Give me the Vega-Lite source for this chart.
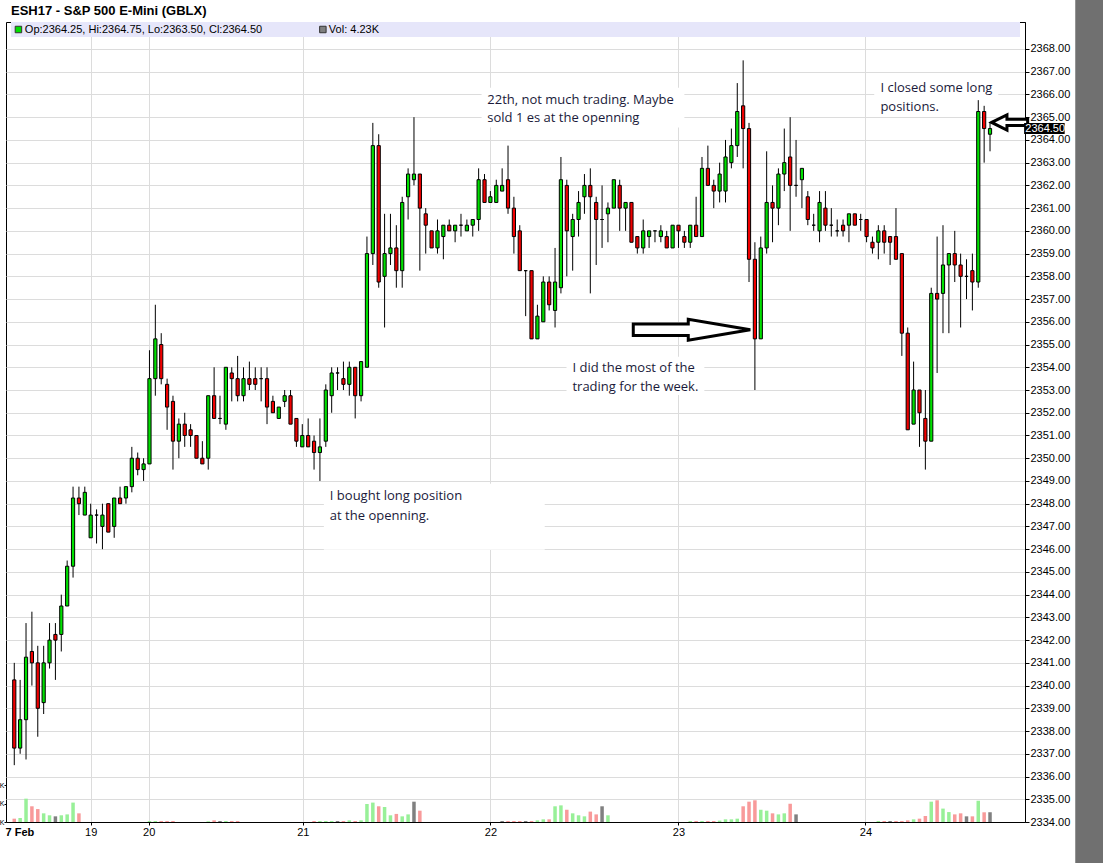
{
  "$schema": "https://vega.github.io/schema/vega-lite/v6.json",
  "width": 1019,
  "height": 800,
  "autosize": {"type": "none"},
  "padding": {"left": 6, "top": 22, "right": 78, "bottom": 41},
  "background": "white",
  "config": {
    "view": {"stroke": "#000", "strokeWidth": 1},
    "font": "Liberation Sans",
    "axis": {"labelFont": "Liberation Sans"}
  },
  "datasets": {
    "bars": [
      {"i":0,"o":2340.25,"h":2341,"l":2336.5,"c":2337.25,"v":1.44},
      {"i":1,"o":2337.25,"h":2340.25,"l":2337,"c":2338.5,"v":1.73},
      {"i":2,"o":2338.5,"h":2342.75,"l":2336.75,"c":2341.25,"v":10.1},
      {"i":3,"o":2341.5,"h":2343.25,"l":2340,"c":2341,"v":6.8},
      {"i":4,"o":2341,"h":2341.75,"l":2337.75,"c":2339,"v":5.6},
      {"i":5,"o":2339.25,"h":2341.75,"l":2338.75,"c":2341,"v":3.75},
      {"i":6,"o":2341,"h":2342.75,"l":2340.75,"c":2342,"v":2.9},
      {"i":7,"o":2342.25,"h":2342.75,"l":2340.25,"c":2342,"v":2.45},
      {"i":8,"o":2342.25,"h":2344,"l":2341.5,"c":2343.5,"v":2.9},
      {"i":9,"o":2343.5,"h":2345.5,"l":2343.5,"c":2345.25,"v":3.3},
      {"i":10,"o":2345.25,"h":2348.75,"l":2344.75,"c":2348.25,"v":8.4},
      {"i":11,"o":2348.25,"h":2348.75,"l":2347.5,"c":2348,"v":3.75},
      {"i":12,"o":2347.5,"h":2348.75,"l":2347.5,"c":2348.5,"v":0},
      {"i":13,"o":2346.5,"h":2348,"l":2346.5,"c":2347.5,"v":0},
      {"i":14,"o":2347.5,"h":2347.75,"l":2346.25,"c":2347.5,"v":0},
      {"i":15,"o":2347,"h":2348,"l":2346,"c":2347.5,"v":0},
      {"i":16,"o":2348,"h":2348,"l":2346.75,"c":2346.75,"v":0},
      {"i":17,"o":2347,"h":2348.25,"l":2346.5,"c":2348.25,"v":0},
      {"i":18,"o":2348.25,"h":2348.75,"l":2348,"c":2348,"v":0},
      {"i":19,"o":2348.25,"h":2348.75,"l":2348,"c":2348.75,"v":0},
      {"i":20,"o":2348.75,"h":2350.5,"l":2348.5,"c":2350,"v":0},
      {"i":21,"o":2350,"h":2350.25,"l":2349.25,"c":2349.5,"v":0},
      {"i":22,"o":2349.5,"h":2350,"l":2349,"c":2349.75,"v":0},
      {"i":23,"o":2349.75,"h":2354.75,"l":2349.75,"c":2353.5,"v":0.43},
      {"i":24,"o":2353.5,"h":2356.75,"l":2352.75,"c":2355.25,"v":0.43},
      {"i":25,"o":2355,"h":2355.5,"l":2353.25,"c":2353.5,"v":0.43},
      {"i":26,"o":2353.25,"h":2353.5,"l":2351.25,"c":2352.25,"v":0.43},
      {"i":27,"o":2352.5,"h":2352.75,"l":2349.5,"c":2350.75,"v":0.43},
      {"i":28,"o":2350.75,"h":2351.75,"l":2350,"c":2351.5,"v":0},
      {"i":29,"o":2351.5,"h":2352,"l":2350.5,"c":2351,"v":0},
      {"i":30,"o":2351.25,"h":2351.5,"l":2350.5,"c":2351,"v":0},
      {"i":31,"o":2351,"h":2351,"l":2350,"c":2350,"v":0},
      {"i":32,"o":2350,"h":2350.75,"l":2349.75,"c":2349.75,"v":0},
      {"i":33,"o":2350,"h":2352.75,"l":2349.5,"c":2352.75,"v":0.3},
      {"i":34,"o":2352.75,"h":2354,"l":2351.75,"c":2351.75,"v":0.72},
      {"i":35,"o":2351.75,"h":2352.75,"l":2351.5,"c":2351.75,"v":0.43},
      {"i":36,"o":2351.5,"h":2354,"l":2351.25,"c":2354,"v":0.43},
      {"i":37,"o":2353.75,"h":2354,"l":2352.5,"c":2353.5,"v":0.43},
      {"i":38,"o":2353.5,"h":2354.5,"l":2352.5,"c":2352.75,"v":0.43},
      {"i":39,"o":2352.75,"h":2354,"l":2352.5,"c":2353.5,"v":0},
      {"i":40,"o":2353.5,"h":2354.25,"l":2353,"c":2353.25,"v":0},
      {"i":41,"o":2353.5,"h":2354,"l":2353,"c":2353.25,"v":0},
      {"i":42,"o":2353.5,"h":2354,"l":2352.5,"c":2353.5,"v":0},
      {"i":43,"o":2353.5,"h":2354,"l":2351.5,"c":2352.25,"v":0},
      {"i":44,"o":2352.5,"h":2352.75,"l":2352,"c":2352,"v":0},
      {"i":45,"o":2351.75,"h":2352.25,"l":2351.75,"c":2352.25,"v":0},
      {"i":46,"o":2352.5,"h":2353,"l":2352.25,"c":2352.75,"v":0},
      {"i":47,"o":2352.75,"h":2353,"l":2351.5,"c":2351.5,"v":0},
      {"i":48,"o":2351.75,"h":2351.75,"l":2350.5,"c":2350.75,"v":0},
      {"i":49,"o":2350.5,"h":2351.5,"l":2350.5,"c":2351,"v":0},
      {"i":50,"o":2351,"h":2351.75,"l":2350.5,"c":2350.5,"v":0},
      {"i":51,"o":2350.75,"h":2351,"l":2349.5,"c":2350.25,"v":0.43},
      {"i":52,"o":2350.25,"h":2351.75,"l":2349,"c":2350.5,"v":0.43},
      {"i":53,"o":2350.75,"h":2353.25,"l":2350.5,"c":2353,"v":0.43},
      {"i":54,"o":2352.75,"h":2354,"l":2352,"c":2353.75,"v":0.43},
      {"i":55,"o":2353.75,"h":2354,"l":2353,"c":2353.75,"v":0.43},
      {"i":56,"o":2353.5,"h":2354.25,"l":2353,"c":2353.25,"v":0.43},
      {"i":57,"o":2353.25,"h":2354.25,"l":2352.75,"c":2354,"v":0.72},
      {"i":58,"o":2354,"h":2354,"l":2351.75,"c":2352.75,"v":0.43},
      {"i":59,"o":2352.75,"h":2354.25,"l":2352.5,"c":2354.25,"v":0.72},
      {"i":60,"o":2354,"h":2359.75,"l":2354,"c":2359,"v":7.8},
      {"i":61,"o":2359,"h":2364.75,"l":2358.5,"c":2363.75,"v":8.4},
      {"i":62,"o":2363.75,"h":2364.25,"l":2357.5,"c":2357.75,"v":6.8},
      {"i":63,"o":2358,"h":2360.75,"l":2355.75,"c":2359,"v":6.5},
      {"i":64,"o":2359,"h":2360.75,"l":2358.5,"c":2359.25,"v":2.9},
      {"i":65,"o":2359.25,"h":2360.25,"l":2357.5,"c":2358.25,"v":3.5},
      {"i":66,"o":2358.25,"h":2361.5,"l":2357.5,"c":2361.25,"v":2.45},
      {"i":67,"o":2361.5,"h":2362.75,"l":2360.5,"c":2362.5,"v":3.3},
      {"i":68,"o":2362.25,"h":2365,"l":2362,"c":2362.5,"v":8.8},
      {"i":69,"o":2362.5,"h":2362.5,"l":2358.25,"c":2361,"v":4.9},
      {"i":70,"o":2360.75,"h":2361,"l":2359,"c":2360.25,"v":0},
      {"i":71,"o":2360,"h":2360,"l":2359.25,"c":2359.25,"v":0},
      {"i":72,"o":2359.25,"h":2360.5,"l":2359,"c":2360,"v":0},
      {"i":73,"o":2359.75,"h":2360.25,"l":2358.75,"c":2360.25,"v":0},
      {"i":74,"o":2360.25,"h":2360.5,"l":2360,"c":2360,"v":0},
      {"i":75,"o":2360,"h":2360.25,"l":2359.5,"c":2360.25,"v":0},
      {"i":76,"o":2360.25,"h":2360.75,"l":2359.75,"c":2360.25,"v":0},
      {"i":77,"o":2360,"h":2360.5,"l":2360,"c":2360.25,"v":0},
      {"i":78,"o":2360.25,"h":2360.5,"l":2359.75,"c":2360.5,"v":0},
      {"i":79,"o":2360.5,"h":2362.75,"l":2360,"c":2362.25,"v":0},
      {"i":80,"o":2362.25,"h":2362.5,"l":2361.25,"c":2361.25,"v":0},
      {"i":81,"o":2361.25,"h":2361.75,"l":2361.25,"c":2361.5,"v":0},
      {"i":82,"o":2361.25,"h":2362.25,"l":2361.25,"c":2362,"v":0},
      {"i":83,"o":2361.75,"h":2362.75,"l":2361.75,"c":2362,"v":0.43},
      {"i":84,"o":2362.25,"h":2363.75,"l":2360.75,"c":2361,"v":0.43},
      {"i":85,"o":2361,"h":2361.5,"l":2359,"c":2359.75,"v":0.43},
      {"i":86,"o":2360,"h":2360.25,"l":2358.25,"c":2358.25,"v":0.43},
      {"i":87,"o":2358.25,"h":2358.25,"l":2356.25,"c":2358.25,"v":0.43},
      {"i":88,"o":2358.25,"h":2358.25,"l":2355.25,"c":2355.25,"v":0.43},
      {"i":89,"o":2355.25,"h":2356.75,"l":2355.25,"c":2356.25,"v":0.72},
      {"i":90,"o":2356,"h":2358,"l":2356,"c":2357.75,"v":1.15},
      {"i":91,"o":2357.75,"h":2358,"l":2356.5,"c":2356.75,"v":1.15},
      {"i":92,"o":2356.5,"h":2359.25,"l":2355.75,"c":2357.75,"v":6.8},
      {"i":93,"o":2357.5,"h":2363.25,"l":2357.25,"c":2362.25,"v":7.2},
      {"i":94,"o":2362,"h":2362.25,"l":2358,"c":2360,"v":5.3},
      {"i":95,"o":2359.75,"h":2360.75,"l":2358.25,"c":2360.5,"v":3.75},
      {"i":96,"o":2360.5,"h":2361.75,"l":2359.75,"c":2361.25,"v":2.9},
      {"i":97,"o":2361.5,"h":2362.5,"l":2360.75,"c":2362,"v":2.45},
      {"i":98,"o":2362,"h":2362.75,"l":2357.25,"c":2361.5,"v":4.5},
      {"i":99,"o":2361.25,"h":2361.5,"l":2358.5,"c":2360.5,"v":3.3},
      {"i":100,"o":2360.5,"h":2362,"l":2359.25,"c":2360.5,"v":6.8},
      {"i":101,"o":2360.75,"h":2361.25,"l":2359.5,"c":2361,"v":2.9},
      {"i":102,"o":2361,"h":2362.25,"l":2361,"c":2362.25,"v":0},
      {"i":103,"o":2362,"h":2362.25,"l":2360,"c":2361,"v":0},
      {"i":104,"o":2361,"h":2361.25,"l":2360,"c":2361.25,"v":0},
      {"i":105,"o":2361.25,"h":2361.25,"l":2359.5,"c":2359.5,"v":0},
      {"i":106,"o":2359.75,"h":2359.75,"l":2359,"c":2359.25,"v":0},
      {"i":107,"o":2359.25,"h":2360.5,"l":2359,"c":2360,"v":0},
      {"i":108,"o":2359.75,"h":2360,"l":2359.25,"c":2360,"v":0},
      {"i":109,"o":2360,"h":2360,"l":2359.5,"c":2360,"v":0},
      {"i":110,"o":2359.75,"h":2360.25,"l":2359.5,"c":2360,"v":0},
      {"i":111,"o":2359.75,"h":2360,"l":2359.25,"c":2359.25,"v":0},
      {"i":112,"o":2359.25,"h":2360.25,"l":2359.25,"c":2360.25,"v":0},
      {"i":113,"o":2360.25,"h":2360.25,"l":2359.25,"c":2360,"v":0},
      {"i":114,"o":2359.75,"h":2360,"l":2359.25,"c":2359.5,"v":0},
      {"i":115,"o":2359.5,"h":2360.25,"l":2359.25,"c":2360.25,"v":0.43},
      {"i":116,"o":2360.25,"h":2361.5,"l":2359.75,"c":2359.75,"v":0.43},
      {"i":117,"o":2359.75,"h":2363.25,"l":2359.75,"c":2362.75,"v":0.43},
      {"i":118,"o":2362.75,"h":2363.75,"l":2362,"c":2362,"v":0.43},
      {"i":119,"o":2362,"h":2362.25,"l":2361,"c":2361.75,"v":0.43},
      {"i":120,"o":2361.75,"h":2363,"l":2361.25,"c":2362.5,"v":0.6},
      {"i":121,"o":2361.75,"h":2364,"l":2361.25,"c":2363.25,"v":1.15},
      {"i":122,"o":2363,"h":2364.5,"l":2362.75,"c":2363.75,"v":1.15},
      {"i":123,"o":2363.75,"h":2366.5,"l":2363.25,"c":2365.25,"v":1.44},
      {"i":124,"o":2365.5,"h":2367.5,"l":2362.75,"c":2364.5,"v":6.8},
      {"i":125,"o":2364.5,"h":2364.75,"l":2357.75,"c":2358.75,"v":8.8},
      {"i":126,"o":2358.75,"h":2359.5,"l":2353,"c":2355.25,"v":9.4},
      {"i":127,"o":2355.25,"h":2359.75,"l":2355.25,"c":2359.25,"v":5.3},
      {"i":128,"o":2359.25,"h":2363.5,"l":2359,"c":2361.25,"v":4.9},
      {"i":129,"o":2361.25,"h":2362,"l":2359.5,"c":2361,"v":3.75},
      {"i":130,"o":2361,"h":2362.75,"l":2360.25,"c":2362.5,"v":3.3},
      {"i":131,"o":2362.5,"h":2364.5,"l":2361.75,"c":2363,"v":3.75},
      {"i":132,"o":2363.25,"h":2365,"l":2360,"c":2362,"v":7.9},
      {"i":133,"o":2362,"h":2364,"l":2361.5,"c":2362,"v":3.3},
      {"i":134,"o":2362.25,"h":2362.75,"l":2361,"c":2362.75,"v":0},
      {"i":135,"o":2361.5,"h":2361.75,"l":2360.25,"c":2360.5,"v":0},
      {"i":136,"o":2360.25,"h":2360.75,"l":2360,"c":2360.25,"v":0},
      {"i":137,"o":2360,"h":2361.75,"l":2359.5,"c":2361.25,"v":0},
      {"i":138,"o":2361,"h":2361.75,"l":2360,"c":2360.25,"v":0},
      {"i":139,"o":2360.25,"h":2361,"l":2359.75,"c":2360.25,"v":0},
      {"i":140,"o":2360,"h":2360.5,"l":2359.75,"c":2360,"v":0},
      {"i":141,"o":2360.25,"h":2360.5,"l":2359.75,"c":2360,"v":0},
      {"i":142,"o":2360.25,"h":2360.75,"l":2359.5,"c":2360.75,"v":0},
      {"i":143,"o":2360.75,"h":2360.75,"l":2360.25,"c":2360.25,"v":0},
      {"i":144,"o":2360.5,"h":2360.75,"l":2360,"c":2360.5,"v":0},
      {"i":145,"o":2360.5,"h":2360.5,"l":2359.5,"c":2359.75,"v":0},
      {"i":146,"o":2359.5,"h":2359.75,"l":2359,"c":2359.25,"v":0},
      {"i":147,"o":2359.5,"h":2360.25,"l":2358.75,"c":2360,"v":0.43},
      {"i":148,"o":2360,"h":2360.25,"l":2359,"c":2359.5,"v":0.43},
      {"i":149,"o":2359.75,"h":2359.75,"l":2358.5,"c":2359.5,"v":0.43},
      {"i":150,"o":2359.75,"h":2361,"l":2358.75,"c":2358.75,"v":0.43},
      {"i":151,"o":2359,"h":2359,"l":2354.5,"c":2355.5,"v":0.43},
      {"i":152,"o":2355.5,"h":2355.75,"l":2351.25,"c":2351.25,"v":0.72},
      {"i":153,"o":2351.5,"h":2354.25,"l":2351.5,"c":2353,"v":1.15},
      {"i":154,"o":2353,"h":2353,"l":2350.5,"c":2352,"v":1.44},
      {"i":155,"o":2351.75,"h":2353,"l":2349.5,"c":2350.75,"v":2.6},
      {"i":156,"o":2350.75,"h":2357.5,"l":2350.75,"c":2357.25,"v":8.8},
      {"i":157,"o":2357.25,"h":2359.75,"l":2353.75,"c":2357,"v":9.4},
      {"i":158,"o":2357.25,"h":2360.25,"l":2355.5,"c":2358.5,"v":5.8},
      {"i":159,"o":2358.5,"h":2359,"l":2355.5,"c":2359,"v":4.3},
      {"i":160,"o":2359,"h":2360,"l":2357.75,"c":2358.5,"v":3.3},
      {"i":161,"o":2358.5,"h":2359,"l":2355.75,"c":2358,"v":3.75},
      {"i":162,"o":2358,"h":2358.75,"l":2357,"c":2358,"v":2.45},
      {"i":163,"o":2358.25,"h":2359,"l":2356.5,"c":2357.75,"v":2.45},
      {"i":164,"o":2357.75,"h":2365.75,"l":2357.5,"c":2365.25,"v":9.2},
      {"i":165,"o":2365.25,"h":2365.5,"l":2363,"c":2364.5,"v":4.2},
      {"i":166,"o":2364.25,"h":2364.75,"l":2363.5,"c":2364.5,"v":4.23}
    ],
    "notes": [
      {"i":80.47,"p":2365.76,"t":"22th, not much trading. Maybe"},
      {"i":80.47,"p":2364.97,"t":"sold 1 es at the openning"},
      {"i":147.35,"p":2366.29,"t":"I closed some long"},
      {"i":147.35,"p":2365.45,"t":"positions."},
      {"i":94.96,"p":2353.98,"t":"I did the most of the"},
      {"i":94.96,"p":2353.14,"t":"trading for the week."},
      {"i":53.69,"p":2348.35,"t":"I bought long position"},
      {"i":53.69,"p":2347.47,"t":"at the openning."}
    ],
    "boxes": [
      {"a":52.67,"b":90.24,"p1":2345.98,"p2":2348.88},
      {"a":79.5,"b":114.0,"p1":2364.55,"p2":2366.3},
      {"a":146.3,"b":167.4,"p1":2365.14,"p2":2366.73},
      {"a":93.95,"b":117.4,"p1":2352.78,"p2":2354.46}
    ]
  },
  "layer": [
    {
      "data": {"name": "bars"},
      "transform": [
        {"window": [{"op": "lag", "field": "c", "as": "pc"}], "sort": [{"field": "i", "order": "ascending"}]}
      ],
      "mark": {"type": "bar", "width": 3.5},
      "encoding": {
        "x": {"field": "i", "type": "quantitative", "scale": {"domain": [-0.556, 171.1], "nice": false, "zero": false}},
        "y": {"field": "v", "type": "quantitative", "scale": {"domain": [0, 346.3], "nice": false, "zero": true},
          "axis": {"orient": "left", "values": [0, 8, 16], "labelExpr": "'K'", "title": null, "grid": false, "domain": false, "tickSize": 2, "tickColor": "#000", "labelPadding": 0, "labelFontSize": 7, "labelColor": "#000"}},
        "color": {
          "condition": [
            {"test": "datum.pc != null && datum.c == datum.pc", "value": "#808080"},
            {"test": "datum.pc == null ? datum.c > datum.o : datum.c > datum.pc", "value": "#98f098"}
          ],
          "value": "#f89a9a"
        }
      }
    },
    {
      "layer": [
        {
          "data": {"name": "bars"},
          "mark": {"type": "rule", "color": "#000", "strokeWidth": 1, "opacity": 0},
          "encoding": {
            "x": {"field": "i", "type": "quantitative",
              "scale": {"domain": [-0.556, 171.1], "nice": false, "zero": false},
              "axis": {
                "values": [0.88, 13, 22.86, 49.1, 81, 113, 144.8],
                "tickCount": 20,
                "labelExpr": "datum.value < 1 ? '7 Feb' : datum.value < 20 ? '19' : datum.value < 30 ? '20' : datum.value < 60 ? '21' : datum.value < 90 ? '22' : datum.value < 120 ? '23' : '24'",
                "title": null,
                "grid": true,
                "gridColor": {"condition": {"test": "datum.value < 1", "value": "transparent"}, "value": "#dcdcdc"},
                "tickColor": {"condition": {"test": "datum.value < 1", "value": "transparent"}, "value": "#000"},
                "domainColor": "#000",
                "tickSize": 3,
                "labelPadding": 1,
                "labelFlush": false,
                "labelOverlap": false,
                "labelFontSize": 11,
                "labelColor": "#000",
                "labelFontWeight": {"condition": {"test": "datum.value < 1", "value": "bold"}, "value": "normal"}
              }},
            "y": {"field": "l", "type": "quantitative",
              "scale": {"domain": [2334, 2369.187], "nice": false, "zero": false},
              "axis": {
                "orient": "right",
                "values": [2334,2335,2336,2337,2338,2339,2340,2341,2342,2343,2344,2345,2346,2347,2348,2349,2350,2351,2352,2353,2354,2355,2356,2357,2358,2359,2360,2361,2362,2363,2364,2365,2366,2367,2368],
                "tickCount": 50,
                "format": ".2f",
                "title": null,
                "grid": true,
                "gridColor": "#dcdcdc",
                "domainColor": "#000",
                "tickColor": "#000",
                "tickSize": 4,
                "labelPadding": 1,
                "labelOverlap": false,
                "labelFontSize": 11,
                "labelColor": "#000"
              }},
            "y2": {"field": "h"}
          }
        },
        {
          "data": {"values": [{"a": -0.556, "b": 171.1, "p1": 2368.527, "p2": 2369.19}]},
          "mark": {"type": "rect", "fill": "#e6e6fa"},
          "encoding": {
            "x": {"field": "a", "type": "quantitative"},
            "x2": {"field": "b"},
            "y": {"field": "p1", "type": "quantitative"},
            "y2": {"field": "p2"}
          }
        },
        {
          "data": {"name": "boxes"},
          "mark": {"type": "rect", "fill": "white"},
          "encoding": {
            "x": {"field": "a", "type": "quantitative"},
            "x2": {"field": "b"},
            "y": {"field": "p1", "type": "quantitative"},
            "y2": {"field": "p2"}
          }
        },
        {
          "data": {"name": "bars"},
          "mark": {"type": "rule", "color": "#000", "strokeWidth": 1},
          "encoding": {
            "x": {"field": "i", "type": "quantitative"},
            "y": {"field": "l", "type": "quantitative"},
            "y2": {"field": "h"}
          }
        },
        {
          "data": {"name": "bars"},
          "mark": {"type": "bar", "width": 3.2, "stroke": "#000", "strokeWidth": 1},
          "encoding": {
            "x": {"field": "i", "type": "quantitative"},
            "y": {"field": "o", "type": "quantitative"},
            "y2": {"field": "c"},
            "color": {"condition": {"test": "datum.c > datum.o", "value": "#00e000"}, "value": "#f00000"}
          }
        },
        {
          "data": {"name": "notes"},
          "mark": {"type": "text", "align": "left", "baseline": "middle", "font": "Open Sans", "fontSize": 13, "fill": "#1a1a3a"},
          "encoding": {
            "x": {"field": "i", "type": "quantitative"},
            "y": {"field": "p", "type": "quantitative"},
            "text": {"field": "t"}
          }
        },
        {
          "data": {"values": [
            {"i": -0.556, "p": 2369.67, "t": "ESH17 - S&P 500 E-Mini (GBLX)"}
          ]},
          "mark": {"type": "text", "align": "left", "baseline": "middle", "font": "Liberation Sans", "fontSize": 13, "fontWeight": "bold", "fill": "#000"},
          "encoding": {
            "x": {"field": "i", "type": "quantitative"},
            "y": {"field": "p", "type": "quantitative"},
            "text": {"field": "t"}
          }
        },
        {
          "data": {"values": [
            {"i": 1.8, "p": 2368.857, "t": "Op:2364.25, Hi:2364.75, Lo:2363.50, Cl:2364.50"},
            {"i": 53.52, "p": 2368.857, "t": "Vol: 4.23K"}
          ]},
          "mark": {"type": "text", "align": "left", "baseline": "middle", "font": "Liberation Sans", "fontSize": 11, "fill": "#000"},
          "encoding": {
            "x": {"field": "i", "type": "quantitative"},
            "y": {"field": "p", "type": "quantitative"},
            "text": {"field": "t"}
          }
        },
        {
          "data": {"values": [
            {"i": 0.71, "p": 2368.857, "k": "op"},
            {"i": 52.5, "p": 2368.857, "k": "vol"}
          ]},
          "mark": {"type": "point", "shape": "square", "size": 42, "filled": true, "stroke": "#333", "strokeWidth": 1, "opacity": 1},
          "encoding": {
            "x": {"field": "i", "type": "quantitative"},
            "y": {"field": "p", "type": "quantitative"},
            "fill": {"field": "k", "type": "nominal", "scale": {"domain": ["op", "vol"], "range": ["#00e000", "#808080"]}, "legend": null}
          }
        },
        {
          "data": {"values": [{"i": 115.26, "p": 2355.65}]},
          "mark": {"type": "point", "shape": "M -1 -0.1 L -0.06 -0.1 L -0.06 -0.18 L 1 0 L -0.06 0.18 L -0.06 0.1 L -1 0.1 Z", "size": 13689, "filled": true, "fill": "white", "stroke": "#000", "strokeWidth": 3, "opacity": 1},
          "encoding": {
            "x": {"field": "i", "type": "quantitative"},
            "y": {"field": "p", "type": "quantitative"}
          }
        },
        {
          "data": {"values": [{"i": 169.34, "p": 2364.77}]},
          "mark": {"type": "point", "shape": "M -1 0 L -0.15 -0.42 L -0.15 -0.17 L 1 -0.17 L 1 0.17 L -0.15 0.17 L -0.15 0.42 Z", "size": 1296, "filled": true, "fill": "white", "stroke": "#000", "strokeWidth": 3, "opacity": 1},
          "encoding": {
            "x": {"field": "i", "type": "quantitative"},
            "y": {"field": "p", "type": "quantitative"}
          }
        },
        {
          "data": {"values": [{"a": 171.8, "b": 178.7, "p1": 2364.26, "p2": 2364.75}]},
          "mark": {"type": "rect", "fill": "#000"},
          "encoding": {
            "x": {"field": "a", "type": "quantitative"},
            "x2": {"field": "b"},
            "y": {"field": "p1", "type": "quantitative"},
            "y2": {"field": "p2"}
          }
        },
        {
          "data": {"values": [{"i": 172.0, "p": 2364.5, "t": "2364.50"}]},
          "mark": {"type": "text", "align": "left", "baseline": "middle", "font": "Liberation Sans", "fontSize": 11, "fill": "white"},
          "encoding": {
            "x": {"field": "i", "type": "quantitative"},
            "y": {"field": "p", "type": "quantitative"},
            "text": {"field": "t"}
          }
        },
        {
          "data": {"values": [{"a": 180.5, "b": 200, "p1": 2320, "p2": 2380}]},
          "mark": {"type": "rect", "fill": "#707070"},
          "encoding": {
            "x": {"field": "a", "type": "quantitative"},
            "x2": {"field": "b"},
            "y": {"field": "p1", "type": "quantitative"},
            "y2": {"field": "p2"}
          }
        }
      ]
    }
  ],
  "resolve": {"scale": {"y": "independent"}}
}
